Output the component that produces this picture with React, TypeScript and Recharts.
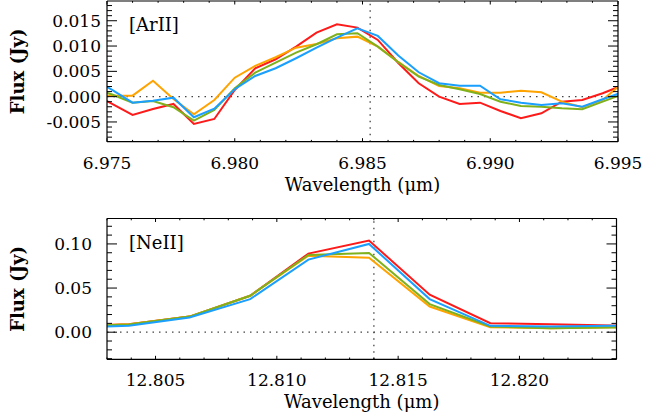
import React from 'react';
import { LineChart, Line, XAxis, YAxis, ReferenceLine } from 'recharts';

const FONT = '"DejaVu Serif", serif';

// [ArII] panel
const arWave = [
  6.9744, 6.9752, 6.976, 6.9768, 6.9776, 6.9784, 6.9792, 6.98, 6.9808, 6.9816,
  6.9824, 6.9832, 6.984, 6.9848, 6.9856, 6.9864, 6.9872, 6.988, 6.9888, 6.9896,
  6.9904, 6.9912, 6.992, 6.9928, 6.9936, 6.9944, 6.9952,
];
const arRed = [
  0.00073, -0.00144, -0.00362, -0.00243, -0.00144, -0.0054, -0.00441, 0.00132, 0.00561, 0.00739,
  0.00988, 0.01265, 0.01431, 0.01364, 0.01121, 0.00666, 0.00265, 0.0, -0.00144, -0.00119,
  -0.00283, -0.00427, -0.00328, -0.00099, -0.00065, 0.00067, 0.00229,
];
const arOrange = [
  0.0002, 0.0002, 0.0002, 0.00316, -0.00045, -0.00348, -0.00065, 0.00375, 0.00607, 0.00779,
  0.00968, 0.01041, 0.01154, 0.01186, 0.00988, 0.00686, 0.00409, 0.00211, 0.00166, 0.00079,
  0.00079, 0.00119, 0.00087, -0.00099, -0.00209, -0.00065, 0.00279,
];
const arGreen = [
  0.00172, 0.00043, -0.00119, -0.00085, -0.00209, -0.00474, -0.00263, 0.00166, 0.00474, 0.00672,
  0.0087, 0.01036, 0.01233, 0.01253, 0.00988, 0.0068, 0.00395, 0.00231, 0.00146, 0.00053,
  -0.00099, -0.00184, -0.00198, -0.00229, -0.00249, -0.00099, 0.00055,
];
const arBlue = [
  0.0037, 0.00132, -0.00119, -0.00079, -0.0002, -0.00407, -0.00237, 0.00146, 0.00409, 0.00561,
  0.00759, 0.00968, 0.01166, 0.01352, 0.012, 0.00814, 0.00482, 0.00265, 0.00217, 0.00217,
  -0.00051, -0.00119, -0.00164, -0.0013, -0.00198, -0.00051, 0.00091,
];

// [NeII] panel
const neWave = [12.8014, 12.8039, 12.8064, 12.8089, 12.8113, 12.8138, 12.8163, 12.8188, 12.8213, 12.8238, 12.8263];
const neRed = [0.0068, 0.0091, 0.0177, 0.0413, 0.089, 0.1038, 0.0424, 0.0102, 0.0089, 0.0075, 0.0074];
const neOrange = [0.0068, 0.0091, 0.0177, 0.0413, 0.0867, 0.0844, 0.0291, 0.0057, 0.0045, 0.0057, 0.0057];
const neGreen = [0.0066, 0.0086, 0.0177, 0.0413, 0.0875, 0.0898, 0.0318, 0.0064, 0.0045, 0.0052, 0.0052];
const neBlue = [0.0055, 0.0072, 0.0166, 0.0375, 0.0822, 0.1, 0.0375, 0.0072, 0.0064, 0.0072, 0.0072];

// ticks
const arXMajor = [6.975, 6.98, 6.985, 6.99, 6.995];
const arYMajor = [-0.005, 0.0, 0.005, 0.01, 0.015];
const neXMajor = [12.805, 12.81, 12.815, 12.82];
const neYMajor = [0.0, 0.05, 0.1];

const AR_LINE = 6.9853;
const NE_LINE = 12.814;

const COLORS = { red: '#ff1a1a', orange: '#ffa300', green: '#7fb11c', blue: '#1a9fff' };

const steps = (from: number, to: number, step: number) => {
  const out: number[] = [];
  for (let i = 0; from + i * step <= to + step / 2; i++) out.push(+(from + i * step).toFixed(6));
  return out;
};

const isMajor = (major: number[], v: number) => major.some((m) => Math.abs(m - v) < 1e-7);

// inward ticks, IDL style; labels only on bottom / left
const xTick = (major: number[], side: 'bottom' | 'top', digits: number) => (props: any) => {
  const { x, y, payload } = props;
  const big = isMajor(major, payload.value);
  const len = big ? 3.5 : 1.8;
  const dir = side === 'bottom' ? -1 : 1;
  return (
    <g>
      <line x1={x} y1={y} x2={x} y2={y + dir * len} stroke="#000" strokeWidth={1} />
      {side === 'bottom' && big && (
        <text x={x} y={y + 27} textAnchor="middle" fontFamily={FONT} fontSize={17} fill="#000">
          {payload.value.toFixed(digits)}
        </text>
      )}
    </g>
  );
};

const yTick = (major: number[], side: 'left' | 'right', digits: number, gap: number) => (props: any) => {
  const { x, y, payload } = props;
  const big = isMajor(major, payload.value);
  const len = big ? 10 : 5;
  const dir = side === 'left' ? 1 : -1;
  return (
    <g>
      <line x1={x} y1={y} x2={x + dir * len} y2={y} stroke="#000" strokeWidth={1} />
      {side === 'left' && big && (
        <text x={x - gap} y={y + 6} textAnchor="end" fontFamily={FONT} fontSize={17} fill="#000">
          {payload.value.toFixed(digits)}
        </text>
      )}
    </g>
  );
};

const xTitle = (props: any) => {
  const { x, y, width } = props.viewBox;
  return (
    <text x={x + width / 2} y={y + 49} textAnchor="middle" fontFamily={FONT} fontSize={18} fill="#000">
      Wavelength (μm)
    </text>
  );
};

const yTitle = (props: any) => {
  const { y, height } = props.viewBox;
  const cx = 18;
  const cy = y + height / 2;
  return (
    <text x={cx} y={cy} transform={`rotate(-90 ${cx} ${cy})`} textAnchor="middle" dominantBaseline="central"
      fontFamily={FONT} fontSize={18} fontWeight="bold" fill="#000">
      Flux (Jy)
    </text>
  );
};

const panelName = (name: string) => (props: any) => {
  const { x, y, height } = props.viewBox;
  const top = y + height;
  return (
    <text x={x + 22} y={top + 30} fontFamily={FONT} fontSize={18} fill="#000">
      {name}
    </text>
  );
};

interface PanelProps {
  wave: number[];
  red: number[];
  orange: number[];
  green: number[];
  blue: number[];
  xDomain: [number, number];
  yDomain: [number, number];
  xMajor: number[];
  yMajor: number[];
  xMinor: number[];
  yMinor: number[];
  xDigits: number;
  yDigits: number;
  labelGap: number;
  center: number;
  name: string;
  height: number;
  margin: { top: number; right: number; bottom: number; left: number };
}

const Panel: React.FC<PanelProps> = (p) => {
  const data = p.wave.map((w, i) => ({ w, red: p.red[i], orange: p.orange[i], green: p.green[i], blue: p.blue[i] }));
  const axisLine = { stroke: '#000', strokeWidth: 1.2 };
  return (
    <LineChart width={646} height={p.height} data={data} margin={p.margin}>
      <XAxis xAxisId="b" dataKey="w" type="number" domain={p.xDomain} allowDataOverflow ticks={p.xMinor}
        interval={0} tickLine={false} tickSize={0} tickMargin={0} height={1} axisLine={axisLine}
        tick={xTick(p.xMajor, 'bottom', p.xDigits)} label={xTitle} />
      <XAxis xAxisId="t" orientation="top" dataKey="w" type="number" domain={p.xDomain} allowDataOverflow
        ticks={p.xMinor} interval={0} tickLine={false} tickSize={0} tickMargin={0} height={1} axisLine={axisLine}
        tick={xTick(p.xMajor, 'top', p.xDigits)} label={panelName(p.name)} />
      <YAxis yAxisId="l" type="number" domain={p.yDomain} allowDataOverflow ticks={p.yMinor} interval={0}
        tickLine={false} tickSize={0} tickMargin={0} width={1} axisLine={axisLine}
        tick={yTick(p.yMajor, 'left', p.yDigits, p.labelGap)} label={yTitle} />
      <YAxis yAxisId="r" orientation="right" type="number" domain={p.yDomain} allowDataOverflow ticks={p.yMinor}
        interval={0} tickLine={false} tickSize={0} tickMargin={0} width={1} axisLine={axisLine}
        tick={yTick(p.yMajor, 'right', p.yDigits, p.labelGap)} />
      <ReferenceLine xAxisId="b" yAxisId="l" y={0} stroke="#444" strokeWidth={1.3} strokeDasharray="1.5 5" />
      <ReferenceLine xAxisId="b" yAxisId="l" x={p.center} stroke="#444" strokeWidth={1.3} strokeDasharray="1.5 5" />
      <Line xAxisId="b" yAxisId="l" type="linear" dataKey="red" stroke={COLORS.red} strokeWidth={2} dot={false} isAnimationActive={false} />
      <Line xAxisId="b" yAxisId="l" type="linear" dataKey="orange" stroke={COLORS.orange} strokeWidth={2} dot={false} isAnimationActive={false} />
      <Line xAxisId="b" yAxisId="l" type="linear" dataKey="green" stroke={COLORS.green} strokeWidth={2} dot={false} isAnimationActive={false} />
      <Line xAxisId="b" yAxisId="l" type="linear" dataKey="blue" stroke={COLORS.blue} strokeWidth={2} dot={false} isAnimationActive={false} />
    </LineChart>
  );
};

export default function App() {
  return (
    <div style={{ position: 'absolute', left: 0, top: 0, width: 646, height: 417, background: '#fff' }}>
      <div style={{ position: 'absolute', left: 0, top: 0 }}>
        <Panel wave={arWave} red={arRed} orange={arOrange} green={arGreen} blue={arBlue}
          xDomain={[6.975, 6.995]} yDomain={[-0.0089, 0.0189]}
          xMajor={arXMajor} yMajor={arYMajor}
          xMinor={steps(6.975, 6.995, 0.001)} yMinor={steps(-0.008, 0.018, 0.001)}
          xDigits={3} yDigits={3} labelGap={6} center={AR_LINE} name="[ArII]"
          height={210} margin={{ top: 0, right: 27, bottom: 67.3, left: 106 }} />
      </div>
      <div style={{ position: 'absolute', left: 0, top: 210 }}>
        <Panel wave={neWave} red={neRed} orange={neOrange} green={neGreen} blue={neBlue}
          xDomain={[12.803, 12.824]} yDomain={[-0.0307, 0.1288]}
          xMajor={neXMajor} yMajor={neYMajor}
          xMinor={steps(12.803, 12.824, 0.001)} yMinor={steps(-0.03, 0.12, 0.01)}
          xDigits={3} yDigits={2} labelGap={15} center={NE_LINE} name="[NeII]"
          height={207} margin={{ top: 7.5, right: 28.5, bottom: 56.7, left: 106 }} />
      </div>
    </div>
  );
}
